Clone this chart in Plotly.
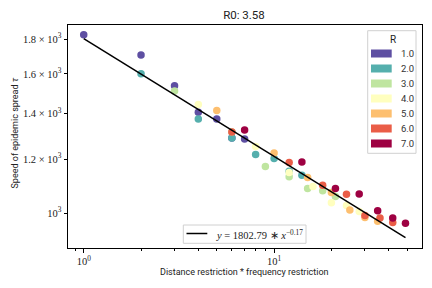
import plotly.graph_objects as go

# ---------------- data ----------------
R_levels = [1.0, 2.0, 3.0, 4.0, 5.0, 6.0, 7.0]
colors = ["#5e4fa2", "#55afad", "#bfe5a0", "#ffffbf", "#fdbf6f", "#ea5d47", "#9e0142"]

# x = distance restriction * frequency restriction, grouped by R
x_R1 = [1, 2, 3, 4, 5, 6, 7]
y_R1 = [1826, 1705, 1537, 1406, 1374, 1289, 1285]
x_R2 = [2, 4, 6, 8, 10, 12, 14]
y_R2 = [1601, 1374, 1289, 1219, 1203, 1152, 1137]
x_R3 = [3, 6, 9, 12, 15, 18, 21]
y_R3 = [1510, 1315, 1171, 1131, 1087, 1079, 1058]
x_R4 = [4, 8, 12, 16, 20, 24, 28]
y_R4 = [1443, 1252, 1147, 1094, 1036, 1026, 1006]
x_R5 = [5, 10, 15, 20, 25, 30, 35]
y_R5 = [1414, 1225, 1128, 1072, 1011, 986, 973]
x_R6 = [6, 12, 18, 24, 30, 36, 42]
y_R6 = [1315, 1187, 1099, 1066, 992, 984, 969]
x_R7 = [7, 14, 21, 28, 35, 42, 49]
y_R7 = [1324, 1189, 1087, 1067, 1008, 984, 967]

xs = [x_R1, x_R2, x_R3, x_R4, x_R5, x_R6, x_R7]
ys = [y_R1, y_R2, y_R3, y_R4, y_R5, y_R6, y_R7]

fit_coef = 1802.79
fit_exp = -0.1726
fit_label_exp = "-0.17"
fit_x = [1, 49]
fit_y = [fit_coef * v ** fit_exp for v in fit_x]

title_text = "R0: 3.58"
x_label = "Distance restriction * frequency restriction"
y_label = "Speed of epidemic spread <i>τ</i>"
x_tickvals = [1, 10]
x_ticktext = ["10<sup>0</sup>", "10<sup>1</sup>"]
x_minor = [0.9, 2, 3, 4, 5, 6, 7, 8, 9, 20, 30, 40, 50]
y_tickvals = [1000, 1200, 1400, 1600, 1800]
y_ticktext = ["10<sup>3</sup>", "1.2 × 10<sup>3</sup>", "1.4 × 10<sup>3</sup>",
              "1.6 × 10<sup>3</sup>", "1.8 × 10<sup>3</sup>"]

# ---------------- layout geometry (pixels) ----------------
W, H = 432, 288
L, RM, T, B = 68, 10, 25, 40
PW, PH = W - L - RM, H - T - B


def px(x):
    return (x - L) / PW


def py(y):
    return (H - B - y) / PH


SANS = "Roboto"
SERIF = "Liberation Serif"

fig = go.Figure()

for xv, yv, c in zip(xs, ys, colors):
    fig.add_trace(go.Scatter(x=xv, y=yv, mode="markers",
                             marker=dict(color=c, size=7.5, line=dict(width=0)),
                             showlegend=False, hoverinfo="x+y"))

fig.add_trace(go.Scatter(x=fit_x, y=fit_y, mode="lines",
                         line=dict(color="black", width=1.5), showlegend=False))

shapes = []
annotations = []

# R legend
shapes.append(dict(type="rect", xref="paper", yref="paper",
                   x0=px(367.7), x1=px(416), y0=py(153.3), y1=py(30.7),
                   line=dict(color="#d0d0d0", width=1), fillcolor="white", layer="above"))
annotations.append(dict(xref="paper", yref="paper", x=px(392.5), y=py(39.5),
                        text="R", showarrow=False, xanchor="center", yanchor="middle",
                        font=dict(family=SANS, size=10, color="#222")))
for i, (lv, c) in enumerate(zip(R_levels, colors)):
    yc = 53.5 + 15 * i
    shapes.append(dict(type="rect", xref="paper", yref="paper",
                       x0=px(371), x1=px(391.7), y0=py(yc + 4), y1=py(yc - 4),
                       line=dict(width=0), fillcolor=c, layer="above"))
    annotations.append(dict(xref="paper", yref="paper", x=px(398.5), y=py(yc),
                            text=f"{lv:.1f}", showarrow=False, xanchor="left", yanchor="middle",
                            font=dict(family=SANS, size=9.5, color="#333")))

# fit legend
shapes.append(dict(type="rect", xref="paper", yref="paper",
                   x0=px(183.3), x1=px(306), y0=py(243.3), y1=py(225),
                   line=dict(color="#d0d0d0", width=1), fillcolor="white", layer="above"))
shapes.append(dict(type="line", xref="paper", yref="paper",
                   x0=px(186.5), x1=px(207.3), y0=py(233.5), y1=py(233.5),
                   line=dict(color="black", width=1.5), layer="above"))
annotations.append(dict(xref="paper", yref="paper", x=px(214), y=py(234),
                        text=f"<i>y</i> = {fit_coef:.2f} ∗ <i>x</i><sup>{fit_label_exp.replace('-', '−')}</sup>",
                        showarrow=False, xanchor="left", yanchor="middle",
                        font=dict(family=SERIF, size=10.5, color="#222")))

# axis titles
annotations.append(dict(xref="paper", yref="paper", x=px(244.5), y=py(271.5),
                        text=x_label, showarrow=False, xanchor="center", yanchor="middle",
                        font=dict(family=SANS, size=9, color="#222")))
annotations.append(dict(xref="paper", yref="paper", x=px(14), y=py(133.5),
                        text=y_label, showarrow=False, xanchor="center", yanchor="middle",
                        textangle=-90, font=dict(family=SANS, size=9, color="#222")))

fig.update_layout(
    width=W, height=H,
    margin=dict(l=L, r=RM, t=T, b=B),
    paper_bgcolor="white", plot_bgcolor="white",
    title=dict(text=title_text, x=px(244), xref="paper", xanchor="center",
               y=1 - 15 / H, yref="container", yanchor="middle",
               font=dict(family=SANS, size=11.5, color="#222")),
    shapes=shapes, annotations=annotations,
    xaxis=dict(type="log", range=[-0.0826, 1.777],
               tickmode="array", tickvals=x_tickvals, ticktext=x_ticktext,
               ticks="outside", ticklen=3.5, tickwidth=0.8, tickcolor="black",
               showgrid=False, zeroline=False,
               showline=True, linecolor="black", linewidth=1, mirror=True,
               tickfont=dict(family=SERIF, size=10.5, color="#222"),
               minor=dict(tickmode="array", tickvals=x_minor, ticks="outside",
                          ticklen=2, tickwidth=0.6, tickcolor="black", showgrid=False)),
    yaxis=dict(type="log", range=[2.949, 3.2758],
               tickmode="array", tickvals=y_tickvals, ticktext=y_ticktext,
               ticks="outside", ticklen=3.5, tickwidth=0.8, tickcolor="black",
               showgrid=False, zeroline=False,
               showline=True, linecolor="black", linewidth=1, mirror=True,
               tickfont=dict(family=SERIF, size=10.5, color="#222")),
)

fig.write_html("out.html",
               config={"displayModeBar": False},
               post_script="document.body.style.margin='0';document.body.style.padding='0';"
                           "document.body.style.overflow='hidden';")
